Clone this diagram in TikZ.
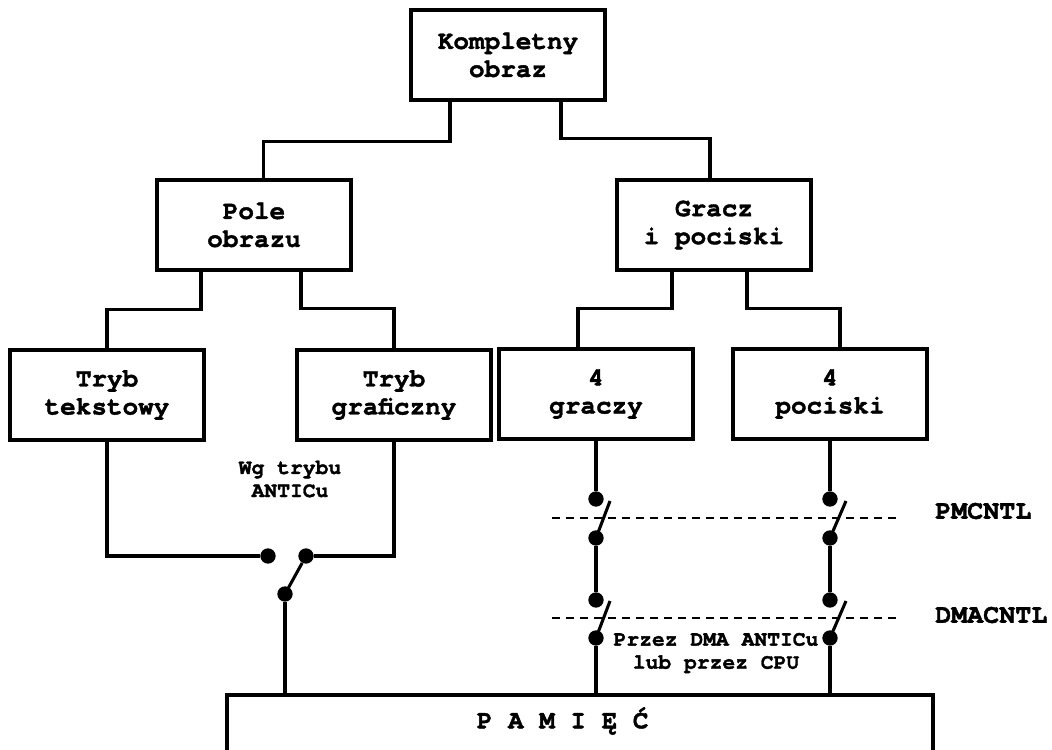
\documentclass[tikz,border=0pt]{standalone}
\usepackage{fontspec}
\setmonofont{texgyrecursor-regular.otf}[BoldFont=texgyrecursor-bold.otf, BoldFeatures={FakeBold=1.5}]
\usepackage{tikz}
\usetikzlibrary{positioning}
\tikzstyle{box} = [
    rectangle, draw, align=center,
    minimum width=145pt,
    minimum height=67.5pt,
    line width=2.8pt,
    font=\ttfamily\bfseries\fontsize{19.5}{21}\selectfont,
]
\tikzstyle{membox} = [
    rectangle, draw, anchor=north,
    minimum width=530pt,
    minimum height=80pt,
    line width=2.8pt,
]
\tikzstyle{wire} = [line width=2.3pt]
\tikzstyle{dot} = [circle, fill, inner sep=0pt, minimum size=11.5pt]
\tikzstyle{note} = [align=center, font=\ttfamily\bfseries\fontsize{16}{17.3}\selectfont]
\tikzstyle{reg} = [anchor=west, inner sep=0pt, font=\ttfamily\bfseries\fontsize{20}{22}\selectfont]
\tikzstyle{dashline} = [line width=1.2pt, dash pattern=on 6pt off 4.5pt]

\begin{document}
\begin{tikzpicture}[x=0.75pt, y=-0.75pt]
    \useasboundingbox (0,0) rectangle (1052,749);

    % boxes
    \node (komplet) at (508,55) [box] {Kompletny\\obraz};
    \node (pole) at (254,225) [box] {Pole\\obrazu};
    \node (gracz) at (714,225) [box] {Gracz\\i pociski};
    \node (tekst) at (107,395) [box] {Tryb\\tekstowy};
    \node (graf) at (394,395) [box] {Tryb\\graficzny};
    \node (graczy) at (596,394) [box] {4\\graczy};
    \node (pociski) at (830,394) [box] {4\\pociski};
    \node (pamiec) at (580,693) [membox] {};
    \node (pamtxt) at ([xshift=-13pt,yshift=-21pt]pamiec.north) [font=\ttfamily\bfseries\fontsize{19.5}{21}\selectfont] {P A M I Ę Ć};

    % tree
    \draw[wire] ([xshift=-43.5pt]komplet.south) -- ++(0,40) -| ([xshift=7pt]pole.north);
    \draw[wire] ([xshift=39.75pt]komplet.south) -- ++(0,37) -| ([xshift=-3pt]gracz.north);
    \draw[wire] ([xshift=-39.75pt]pole.south) -- ++(0,38) -| (tekst.north);
    \draw[wire] ([xshift=35.25pt]pole.south) -- ++(0,37) -| (graf.north);
    \draw[wire] ([xshift=-31.5pt]gracz.south) -- ++(0,37) -| ([xshift=-13.5pt]graczy.north);
    \draw[wire] ([xshift=24.75pt]gracz.south) -- ++(0,37) -| ([xshift=7.5pt]pociski.north);

    % mode switch
    \node (modeL) at (268,556) [dot] {};
    \node (modeR) at (306,556) [dot] {};
    \node (modeC) at (285,594) [dot] {};
    \draw[wire] (tekst.south) |- (modeL);
    \draw[wire] (graf.south) |- (modeR);
    \draw[wire] (modeC.center) -- (modeR);
    \draw[wire] (modeC) -- (modeC |- pamiec.north);
    \node (tryb) at (290,479) [note] {Wg trybu\\ANTICu};

    % player and missile switches
    \foreach \n/\t in {graczy/14, pociski/16} {
        \node (\n1) at (\n.south |- 0,499) [dot] {};
        \node (\n2) at (\n.south |- 0,538) [dot] {};
        \node (\n3) at (\n.south |- 0,600) [dot] {};
        \node (\n4) at (\n.south |- 0,638) [dot] {};
        \draw[wire] (\n.south) -- (\n1);
        \draw[wire] (\n2) -- (\n3);
        \draw[wire] (\n4) -- (\n4 |- pamiec.north);
        \draw[wire] (\n2.center) -- ++(\t,-37);
        \draw[wire] (\n4.center) -- ++(\t,-37);
    }
    \node (dma) at (716,653) [note] {Przez DMA ANTICu\\lub przez CPU};

    % control registers
    \draw[dashline] (552,518) -- (898,518);
    \draw[dashline] (552,618) -- (898,618);
    \node (pm) at (935,511) [reg] {PMCNTL};
    \node (dm) at (935,615) [reg] {DMACNTL};
\end{tikzpicture}
\end{document}
